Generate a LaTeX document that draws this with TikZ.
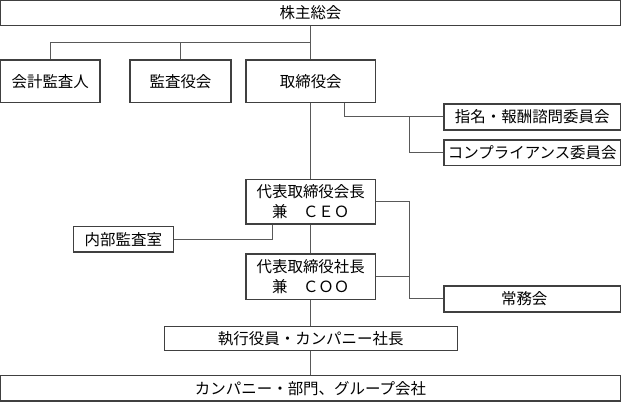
\documentclass[tikz,border=0pt]{standalone}
\usepackage{fontspec}
\newfontfamily\jpfont{Noto Sans CJK JP}

\begin{document}
\begin{tikzpicture}[x=0.75pt, y=-0.75pt,
    box/.style={rectangle, draw=black!75, line width=0.9pt, fill=white, inner sep=0pt, align=center,
        font=\jpfont\fontsize{11.6}{14.6}\selectfont},
    boxsize/.style 2 args={minimum width=#1*0.75pt, minimum height=#2*0.75pt},
    link/.style={draw=black!65, line width=0.75pt}]
    \useasboundingbox (0,0) rectangle (621,402);

    % Governance
    \node [box, boxsize={620}{25}] (agm) at (310.5,13) {株主総会};
    \node [box, boxsize={99.5}{42.7}] (accountant) at (50.25,81.35) {会計監査人};
    \node [box, boxsize={101}{42.7}] (auditors) at (180.5,81.35) {監査役会};
    \node [box, boxsize={129.5}{42.7}] (board) at (310.75,81.35) {取締役会};

    % Committees
    \node [box, boxsize={176.5}{26}] (nomination) at (532.25,117) {指名・報酬諮問委員会};
    \node [box, boxsize={176.5}{25.3}] (compliance) at (532.25,152.6) {コンプライアンス委員会};

    % Executives
    \node [box, boxsize={129.5}{44.7}] (ceo) at (310.75,201.65) {代表取締役会長\\兼　ＣＥＯ};
    \node [box, boxsize={100}{25.3}] (internal) at (123.3,239.35) {内部監査室};
    \node [box, boxsize={129.5}{45.3}] (coo) at (310.75,276.65) {代表取締役社長\\兼　ＣＯＯ};
    \node [box, boxsize={176.5}{26}] (executive) at (532.25,299) {常務会\hspace*{12pt}};
    \node [box, boxsize={293}{24}] (officers) at (310.75,338.7) {執行役員・カンパニー社長};
    \node [box, boxsize={620}{25.7}] (companies) at (310.5,388.2) {カンパニー・部門、グループ会社};

    % Lines
    \coordinate (bus) at (310.75,42.7);
    \coordinate (rightbus) at (409.3,0);
    \draw [link] (agm.south -| board.north) -- (board.north);
    \draw [link] (accountant.north) |- (bus);
    \draw [link] (auditors.north) -- (auditors.north |- bus);
    \draw [link] (board) -- (ceo);
    \draw [link] (ceo) -- (coo);
    \draw [link] (coo) -- (officers);
    \draw [link] (officers.south) -- (officers.south |- companies.north);
    \draw [link] ([xshift=-24pt]board.south east) |- (nomination.west);
    \draw [link] (rightbus |- nomination.west) |- (compliance.west);
    \draw [link] (ceo.east) -| (rightbus |- executive.west) -- (executive.west);
    \draw [link] (coo.east) -- (coo.east -| rightbus);
    \draw [link] (internal.east) -| ([xshift=-29pt]ceo.south);
\end{tikzpicture}
\end{document}
